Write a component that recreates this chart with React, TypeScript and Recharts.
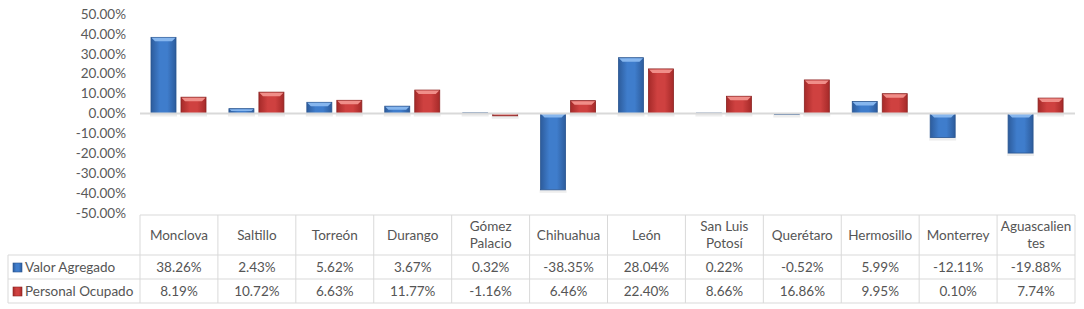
import React from "react";
import { BarChart, Bar, XAxis, YAxis, ReferenceLine } from "recharts";

const categories = [
  "Monclova", "Saltillo", "Torreón", "Durango", "Gómez Palacio", "Chihuahua",
  "León", "San Luis Potosí", "Querétaro", "Hermosillo", "Monterrey", "Aguascalientes",
];
const headerLabels = [
  "Monclova", "Saltillo", "Torreón", "Durango", "Gómez\nPalacio", "Chihuahua",
  "León", "San Luis\nPotosí", "Querétaro", "Hermosillo", "Monterrey", "Aguascalien\ntes",
];
const valorAgregado = [38.26, 2.43, 5.62, 3.67, 0.32, -38.35, 28.04, 0.22, -0.52, 5.99, -12.11, -19.88];
const personalOcupado = [8.19, 10.72, 6.63, 11.77, -1.16, 6.46, 22.4, 8.66, 16.86, 9.95, 0.1, 7.74];
const seriesNames = ["Valor Agregado", "Personal Ocupado"];
const yTicks = [-50, -40, -30, -20, -10, 0, 10, 20, 30, 40, 50];

const data = categories.map((c, i) => ({
  name: c,
  valor: valorAgregado[i],
  personal: personalOcupado[i],
}));

const W = 1084;
const H = 309;
const XH = 96;
const M = { top: 14, right: 9, bottom: 0, left: 10 };
const YW = 130;
const PLOT_L = M.left + YW;
const PLOT_R = W - M.right;
const BAND = (PLOT_R - PLOT_L) / categories.length;
const LEG_L = 8;
const FONT = "Lato, 'Open Sans', sans-serif";
const GRID = "#d9d9d9";
const TXT = "#555555";

const fmt = (v: number) => `${v.toFixed(2)}%`;

const palette: Record<string, { grad: string; bevel: string; stroke: string }> = {
  valor: { grad: "url(#gBlue)", bevel: "#86b6ee", stroke: "#2a558f" },
  personal: { grad: "url(#gRed)", bevel: "#f08e89", stroke: "#8a2221" },
};

const BevelBar = (props: any) => {
  const { x, y, width, height, dataKey } = props;
  if (x == null || y == null || !width) return null;
  const top = Math.min(y, y + height);
  const h = Math.abs(height);
  if (h < 0.3) return null;
  const p = palette[dataKey] || palette.valor;
  const b = Math.min(4, h / 2);
  return (
    <g>
      <rect x={x - 1} y={top + h} width={width + 2} height={3} fill="#000" opacity={0.07} />
      <rect x={x} y={top} width={width} height={h} fill={p.grad} stroke={p.stroke} strokeWidth={0.8} />
      <polygon
        points={`${x + 0.5},${top + 0.5} ${x + width - 0.5},${top + 0.5} ${x + width - b},${top + b} ${x + b},${top + b}`}
        fill={p.bevel}
      />
    </g>
  );
};

const TableTick = (props: any) => {
  const { x, y, payload } = props;
  const i = payload.index;
  const left = x - BAND / 2;
  const right = x + BAND / 2;
  const top = y + 2;
  const r1 = y + 42;
  const r2 = y + 66;
  const r3 = y + 90;
  const lines = headerLabels[i].split("\n");
  const hc = (top + r1) / 2;
  const els: React.ReactNode[] = [];
  if (i === 0) {
    els.push(
      <line key="t" x1={PLOT_L} x2={PLOT_R} y1={top} y2={top} stroke={GRID} />,
      <line key="a" x1={LEG_L} x2={PLOT_R} y1={r1} y2={r1} stroke={GRID} />,
      <line key="b" x1={LEG_L} x2={PLOT_R} y1={r2} y2={r2} stroke={GRID} />,
      <line key="c" x1={LEG_L} x2={PLOT_R} y1={r3} y2={r3} stroke={GRID} />,
      <line key="l" x1={LEG_L} x2={LEG_L} y1={r1} y2={r3} stroke={GRID} />,
      <rect key="i1" x={13} y={(r1 + r2) / 2 - 4} width={9} height={9} fill="url(#gBlue)" stroke="#2a558f" strokeWidth={0.6} />,
      <rect key="i2" x={13} y={(r2 + r3) / 2 - 4} width={9} height={9} fill="url(#gRed)" stroke="#8a2221" strokeWidth={0.6} />,
      <text key="s1" x={25} y={(r1 + r2) / 2} dy="0.36em" fontSize={13.5} fill={TXT} fontFamily={FONT}>{seriesNames[0]}</text>,
      <text key="s2" x={25} y={(r2 + r3) / 2} dy="0.36em" fontSize={13.5} fill={TXT} fontFamily={FONT}>{seriesNames[1]}</text>
    );
  }
  els.push(<line key="vl" x1={left} x2={left} y1={top} y2={r3} stroke={GRID} />);
  if (i === categories.length - 1) {
    els.push(<line key="vr" x1={right} x2={right} y1={top} y2={r3} stroke={GRID} />);
  }
  lines.forEach((ln, k) => {
    const yy = hc + (k - (lines.length - 1) / 2) * 17;
    els.push(
      <text key={`h${k}`} x={x} y={yy} dy="0.36em" textAnchor="middle" fontSize={13.5} fill={TXT} fontFamily={FONT}>{ln}</text>
    );
  });
  els.push(
    <text key="v1" x={x} y={(r1 + r2) / 2} dy="0.36em" textAnchor="middle" fontSize={13.5} fill={TXT} fontFamily={FONT}>{fmt(valorAgregado[i])}</text>,
    <text key="v2" x={x} y={(r2 + r3) / 2} dy="0.36em" textAnchor="middle" fontSize={13.5} fill={TXT} fontFamily={FONT}>{fmt(personalOcupado[i])}</text>
  );
  return <g>{els}</g>;
};

export default function App() {
  return (
    <div style={{ position: "absolute", left: 0, top: 0, width: W, height: H, background: "#fff" }}>
      <BarChart width={W} height={H} data={data} margin={M} barSize={25} barGap={5}>
        <defs>
          <linearGradient id="gBlue" x1="0" y1="0" x2="1" y2="0">
            <stop offset="0%" stopColor="#2d5c9c" />
            <stop offset="35%" stopColor="#3f7dcc" />
            <stop offset="65%" stopColor="#3f7dcc" />
            <stop offset="100%" stopColor="#2d5c9c" />
          </linearGradient>
          <linearGradient id="gRed" x1="0" y1="0" x2="1" y2="0">
            <stop offset="0%" stopColor="#a52a29" />
            <stop offset="35%" stopColor="#cf4140" />
            <stop offset="65%" stopColor="#cf4140" />
            <stop offset="100%" stopColor="#a52a29" />
          </linearGradient>
        </defs>
        <YAxis
          type="number"
          domain={[-50, 50]}
          ticks={yTicks}
          width={YW}
          axisLine={false}
          tickLine={false}
          tickSize={0}
          tickMargin={14}
          tickFormatter={fmt}
          tick={{ fontSize: 13.5, fill: "#595959", fontFamily: FONT }}
          interval={0}
        />
        <XAxis
          dataKey="name"
          height={XH}
          axisLine={false}
          tickLine={false}
          tickSize={0}
          tickMargin={0}
          interval={0}
          tick={<TableTick />}
        />
        <ReferenceLine y={0} stroke={GRID} strokeWidth={2} />
        <Bar dataKey="valor" name={seriesNames[0]} isAnimationActive={false} shape={<BevelBar dataKey="valor" />} />
        <Bar dataKey="personal" name={seriesNames[1]} isAnimationActive={false} shape={<BevelBar dataKey="personal" />} />
      </BarChart>
    </div>
  );
}
